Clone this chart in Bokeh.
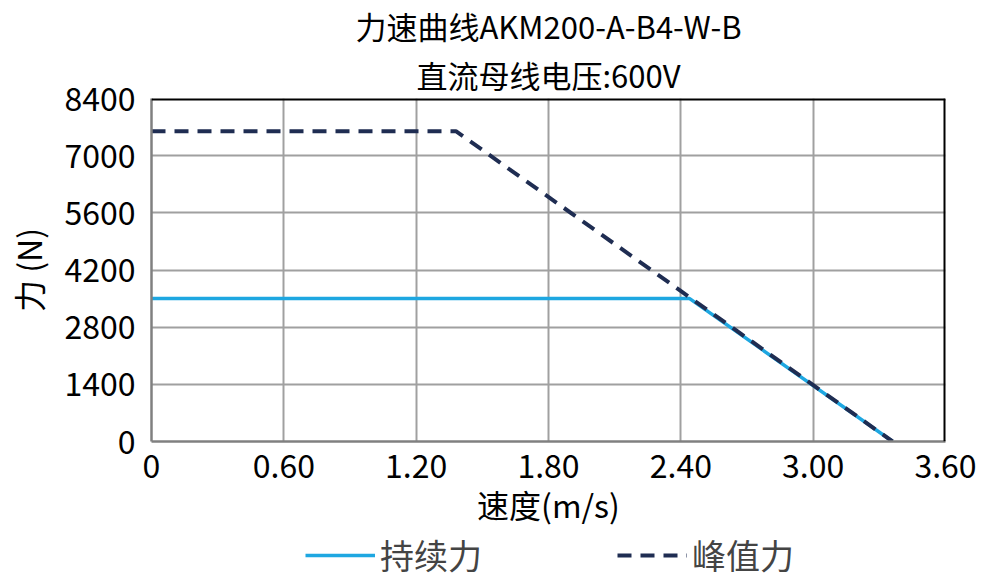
from bokeh.embed import file_html
from bokeh.layouts import column
from bokeh.models import Legend, LegendItem, Span, Title
from bokeh.plotting import figure
from bokeh.resources import INLINE

FONT = "Noto Sans CJK SC"

TITLE = "力速曲线AKM200-A-B4-W-B"
SUBTITLE = "直流母线电压:600V"

# speed (m/s) vs force (N)
cont_speed = [0, 2.44, 3.36]
cont_force = [3500, 3500, 0]
peak_speed = [0, 1.38, 3.36]
peak_force = [7600, 7600, 0]

x_ticks = [0, 0.6, 1.2, 1.8, 2.4, 3.0, 3.6]
x_labels = ["0", "0.60", "1.20", "1.80", "2.40", "3.00", "3.60"]
y_ticks = [0, 1400, 2800, 4200, 5600, 7000, 8400]

CONT_STYLE = dict(line_color="#1EA7E1", line_width=3.5)
PEAK_STYLE = dict(line_color="#1F2D52", line_width=4, line_dash="14 9")

p = figure(
    frame_width=794, frame_height=343,
    x_range=(0, 3.6), y_range=(0, 8400),
    output_backend="svg", toolbar_location=None, tools="",
    min_border_left=151, min_border_right=55, min_border_top=0,
    min_border_bottom=0,
)
p.title = Title(text=TITLE, align="center", text_font=FONT, text_font_size="31px",
                text_font_style="normal", text_color="black", standoff=0)
p.add_layout(Title(text=SUBTITLE, align="center", text_font=FONT,
                   text_font_size="31px", text_font_style="normal",
                   text_color="black", standoff=4), "above")
p.outline_line_color = None

p.line(cont_speed, cont_force, **CONT_STYLE)
p.line(peak_speed, peak_force, **PEAK_STYLE)

for ax in (p.xaxis, p.yaxis):
    ax.axis_line_color = "#808080"
    ax.axis_line_width = 2.5
    ax.major_tick_line_color = None
    ax.minor_tick_line_color = None
    ax.major_label_text_font = FONT
    ax.major_label_text_font_size = "32px"
    ax.major_label_text_color = "black"
    ax.axis_label_text_font = FONT
    ax.axis_label_text_font_size = "32px"
    ax.axis_label_text_font_style = "normal"
    ax.axis_label_text_color = "black"

p.xaxis.ticker = x_ticks
p.xaxis.major_label_overrides = dict(zip(x_ticks, x_labels))
p.xaxis.major_label_standoff = 6
p.xaxis.axis_label = "速度(m/s)"
p.xaxis.axis_label_standoff = 0
p.yaxis.ticker = y_ticks
p.yaxis.major_label_standoff = 10
p.yaxis.axis_label = "力 (N)"
p.yaxis.axis_label_standoff = 10

p.grid.grid_line_color = "#A0A0A0"
p.grid.grid_line_width = 2

p.add_layout(Span(location=8400, dimension="width", line_color="black", line_width=4))
p.add_layout(Span(location=3.6, dimension="height", line_color="black", line_width=4))

# legend strip underneath the chart (its lines sit outside the strip's ranges)
lg = figure(width=1000, height=50, x_range=(-2, -1), y_range=(-2, -1),
            output_backend="svg", toolbar_location=None, tools="", min_border=0)
lg.axis.visible = False
lg.grid.visible = False
lg.outline_line_color = None
r1 = lg.line(cont_speed, cont_force, **CONT_STYLE)
r2 = lg.line(peak_speed, peak_force, **PEAK_STYLE)
legend = Legend(items=[LegendItem(label="持续力", renderers=[r1]),
                       LegendItem(label="峰值力", renderers=[r2])],
                orientation="horizontal", location=(154, 0),
                label_text_font=FONT, label_text_font_size="34px",
                glyph_width=70, glyph_height=30, label_height=30,
                spacing=135, border_line_color=None,
                background_fill_alpha=0, padding=0, margin=0, label_standoff=5)
lg.add_layout(legend)

open("out.html", "w").write(file_html(column(p, lg), INLINE))
